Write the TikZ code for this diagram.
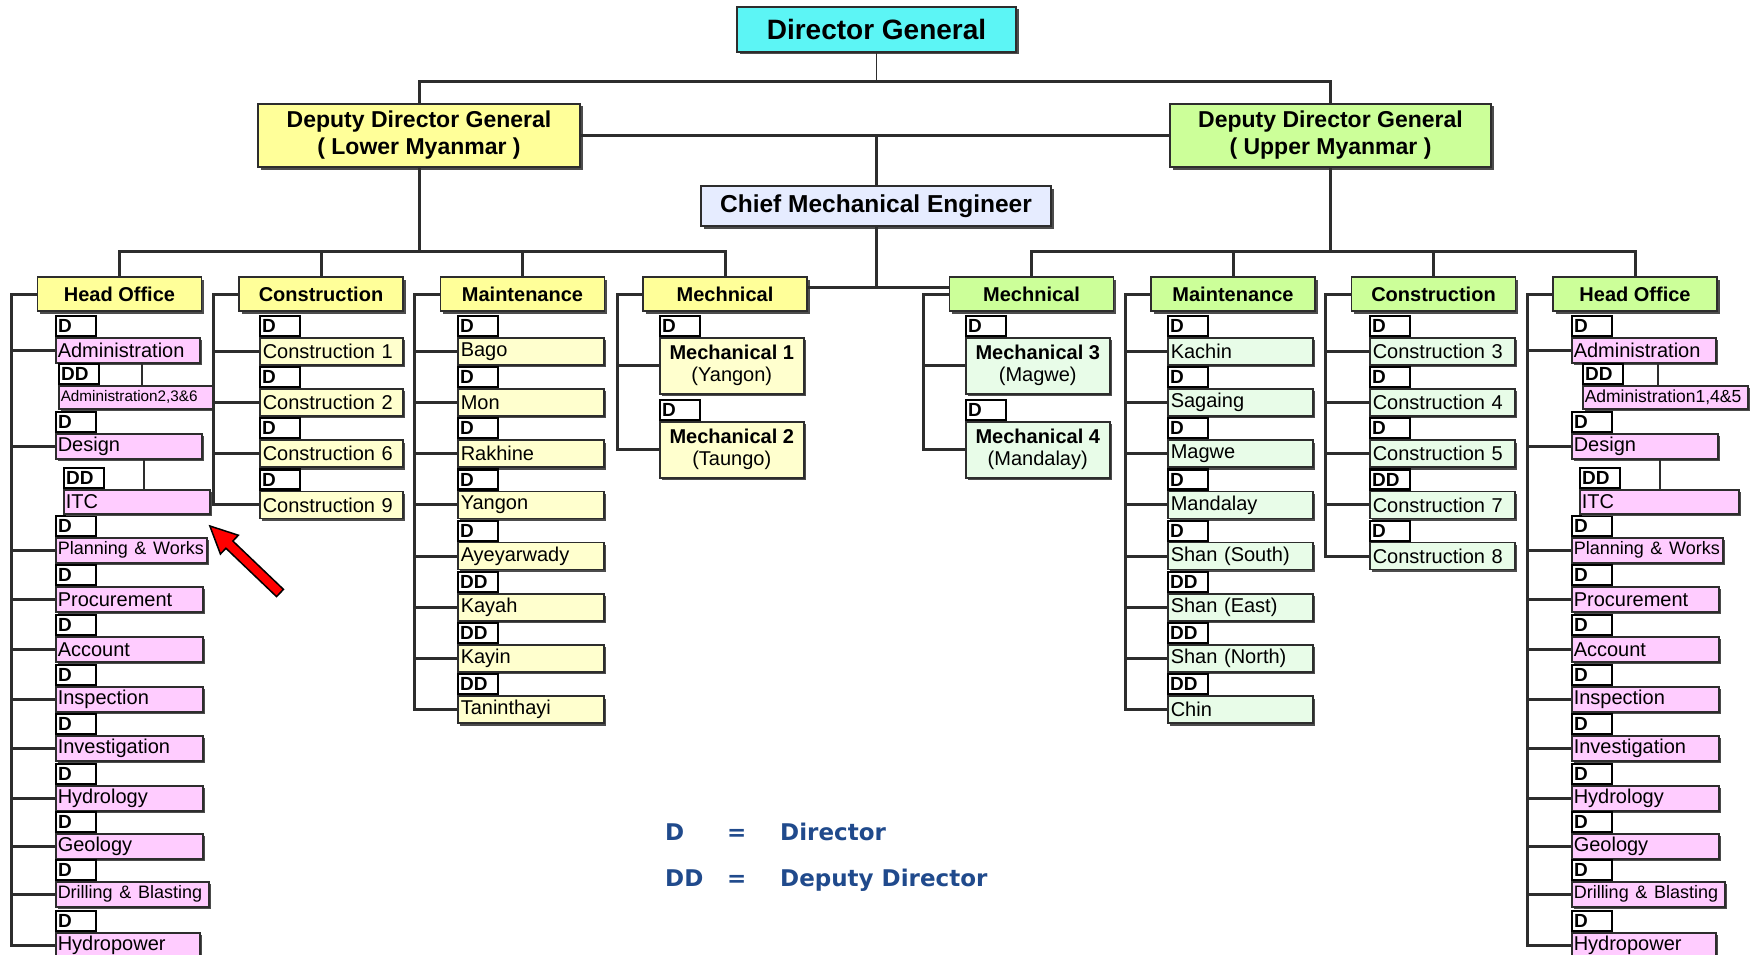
\documentclass[tikz,border=0pt]{standalone}
\usepackage{fontspec}
\setmainfont{Liberation Sans}
\newfontfamily\keyfont{DejaVu Sans}
\usepackage{tikz}
\usetikzlibrary{positioning,calc,shadows}
\usepackage{xcolor}

\definecolor{dgcyan}{RGB}{92,245,245}
\definecolor{lowyellow}{RGB}{255,255,153}
\definecolor{upgreen}{RGB}{204,255,153}
\definecolor{cmeblue}{RGB}{230,236,255}
\definecolor{itemyellow}{RGB}{255,255,206}
\definecolor{itemgreen}{RGB}{232,252,232}
\definecolor{itempink}{RGB}{255,204,255}
\definecolor{linegray}{RGB}{45,45,45}
\definecolor{legendblue}{RGB}{32,74,140}

\newcommand{\pxfont}[2]{\fontsize{#1}{#2}\selectfont}

\begin{document}
\begin{tikzpicture}[x=1pt,y=-1pt,line join=miter]
  \tikzstyle{box}=[draw=linegray,line width=1.5pt,inner sep=2pt,
                   drop shadow={shadow xshift=2.5pt,shadow yshift=-2.5pt,fill=black!70,opacity=1}]
  \tikzstyle{top box}=[box,align=center,font=\bfseries\pxfont{23}{27}]
  \tikzstyle{head}=[box,minimum width=164pt,minimum height=34pt,font=\bfseries\pxfont{20}{22}]
  \tikzstyle{unit}=[box,anchor=north west,minimum height=27pt,inner xsep=3pt,align=left,font=\pxfont{20}{22}]
  \tikzstyle{pink unit}=[unit,fill=itempink,minimum height=25pt,inner xsep=2pt]
  \tikzstyle{mech unit}=[box,anchor=north west,minimum width=144pt,minimum height=56pt,align=center,font=\pxfont{20}{22}]
  \tikzstyle{tag}=[draw=black,line width=2.2pt,fill=white,anchor=south west,minimum width=40pt,
                   minimum height=20pt,text width=36pt,inner xsep=2pt,inner ysep=0pt,align=left,
                   font=\bfseries\pxfont{19}{19}]
  \tikzstyle{link}=[draw=linegray,line width=3pt]
  \tikzstyle{key}=[inner sep=0pt,anchor=base west,text=legendblue,font=\keyfont\bfseries\pxfont{23}{23}]

  \useasboundingbox (0,0) rectangle (1751,955);

  % top of the chart
  \node[top box,fill=dgcyan,minimum width=279pt,minimum height=45pt,font=\bfseries\pxfont{28}{30}] (dg) at (876.5,29.5) {Director General};
  \node[top box,fill=lowyellow,minimum width=322pt,minimum height=63pt] (ddgL) at (419,135.5) {Deputy Director General\\( Lower Myanmar )};
  \node[top box,fill=upgreen,minimum width=321pt,minimum height=63pt] (ddgR) at (1330.5,135.5) {Deputy Director General\\( Upper Myanmar )};
  \node[top box,fill=cmeblue,minimum width=350pt,minimum height=40pt,font=\bfseries\pxfont{24.5}{26}] (cme) at (876,206) {Chief Mechanical Engineer};

  % department heads
  \node[head,fill=lowyellow] (hoL) at (119.5,294) {Head Office};
  \node[head,fill=lowyellow,right=36pt of hoL] (conL) {Construction};
  \node[head,fill=lowyellow,right=36pt of conL] (mntL) {Maintenance};
  \node[head,fill=lowyellow,right=37pt of mntL] (mecL) {Mechnical};
  \node[head,fill=upgreen] (mecR) at (1031.5,294) {Mechnical};
  \node[head,fill=upgreen,right=36pt of mecR] (mntR) {Maintenance};
  \node[head,fill=upgreen,right=35pt of mntR] (conR) {Construction};
  \node[head,fill=upgreen,right=36pt of conR] (hoR) {Head Office};

  \draw[draw=linegray,line width=1.5pt] (dg.south) -- ++(0,29) coordinate (dgBus);
  \draw[link] (ddgL.north) |- (dgBus) -| (ddgR.north);
  \draw[link] (ddgL.east) -- (ddgR.west);
  \draw[link] (cme.north) -- (cme.north |- ddgL.east);
  \draw[link] (cme.south) -- ++(0,61) coordinate (cmeBus);
  \draw[link] (mecL.east |- cmeBus) -- (mecR.west |- cmeBus);
  \draw[link] (ddgL.south) -- ++(0,84) coordinate (lowBus);
  \draw[link] (hoL.north) |- (lowBus) -| (mecL.north);
  \draw[link] (conL.north) -- (conL.north |- lowBus);
  \draw[link] (mntL.north) -- (mntL.north |- lowBus);
  \draw[link] (ddgR.south) -- ++(0,84) coordinate (upBus);
  \draw[link] (mecR.north) |- (upBus) -| (hoR.north);
  \draw[link] (mntR.north) -- (mntR.north |- upBus);
  \draw[link] (conR.north) -- (conR.north |- upBus);

  \foreach \hd in {hoL,conL,mntL,mecL,mecR,mntR,conR,hoR}
    \coordinate (\hd-spine) at ($(\hd.west)+(-25,0)$);

  % head offices
  \foreach \side/\x in {L/55,R/1571}{
    \foreach \lab/\tg/\top/\tw [count=\i] in {Administration/D/337/140,Design/D/433/142,
        {\pxfont{18}{20}Planning \& Works}/D/537/147,Procurement/D/586/143,Account/D/636/143,
        Inspection/D/686/143,Investigation/D/735/143,Hydrology/D/785/143,Geology/D/833/143,
        {\pxfont{18}{20}Drilling \& Blasting}/D/881/149,Hydropower/D/932/140}{
      \node[pink unit,text width=\tw pt] (ho\side-\i) at (\x,\top) {\lab};
      \node[tag] (ho\side-\i-tag) at (ho\side-\i.north west) {\tg};
      \draw[link] (ho\side-\i.west) -- (ho\side-\i.west -| ho\side-spine);
    }
    \draw[link] (ho\side.west) -| (ho\side-11.west -| ho\side-spine) -- (ho\side-11.west);
  }
  \node[pink unit,minimum height=23pt,text width=150pt,font=\pxfont{15.3}{16}] (hoL-adm) at (58,385) {Administration2,3\&6};
  \node[tag] (hoL-adm-tag) at (hoL-adm.north west) {DD};
  \node[pink unit,minimum height=24pt,text width=142pt] (hoL-itc) at (63,489) {ITC};
  \node[tag] (hoL-itc-tag) at (hoL-itc.north west) {DD};
  \node[pink unit,minimum height=23pt,text width=161pt,font=\pxfont{17.5}{18}] (hoR-adm) at (1582,385) {Administration1,4\&5};
  \node[tag] (hoR-adm-tag) at (hoR-adm.north west) {DD};
  \node[pink unit,minimum height=24pt,text width=155pt] (hoR-itc) at (1579,489) {ITC};
  \node[tag] (hoR-itc-tag) at (hoR-itc.north west) {DD};
  \foreach \side in {L,R}{
    \path ($(ho\side-1.south west)!0.6!(ho\side-1.south east)$) coordinate (ho\side-j1)
          ($(ho\side-2.south west)!0.6!(ho\side-2.south east)$) coordinate (ho\side-j2);
    \draw[draw=linegray,line width=2pt] (ho\side-j1) -- (ho\side-j1 |- ho\side-adm.north);
    \draw[draw=linegray,line width=2pt] (ho\side-j2) -- (ho\side-j2 |- ho\side-itc.north);
  }

  % construction
  \foreach \lab/\tg [count=\i] in {Construction 1/D,Construction 2/D,Construction 6/D,Construction 9/D}{
    \node[unit,fill=itemyellow,text width=137pt] (conL-\i) at (259,285.8+51.2*\i) {\lab};
    \node[tag] (conL-\i-tag) at (conL-\i.north west) {\tg};
    \draw[link] (conL-\i.west) -- (conL-\i.west -| conL-spine);
  }
  \draw[link] (conL.west) -| (conL-4.west -| conL-spine) -- (conL-4.west);
  \foreach \lab/\tg [count=\i] in {Construction 3/D,Construction 4/D,Construction 5/D,Construction 7/DD,Construction 8/D}{
    \node[unit,fill=itemgreen,text width=139pt] (conR-\i) at (1369,285.8+51.2*\i) {\lab};
    \node[tag] (conR-\i-tag) at (conR-\i.north west) {\tg};
    \draw[link] (conR-\i.west) -- (conR-\i.west -| conR-spine);
  }
  \draw[link] (conR.west) -| (conR-5.west -| conR-spine) -- (conR-5.west);

  % maintenance
  \foreach \lab/\tg [count=\i] in {Bago/D,Mon/D,Rakhine/D,Yangon/D,Ayeyarwady/D,Kayah/DD,Kayin/DD,Taninthayi/DD}{
    \node[unit,fill=itemyellow,text width=140pt] (mntL-\i) at (457,285.8+51.2*\i) {\lab};
    \node[tag] (mntL-\i-tag) at (mntL-\i.north west) {\tg};
    \draw[link] (mntL-\i.west) -- (mntL-\i.west -| mntL-spine);
  }
  \draw[link] (mntL.west) -| (mntL-8.west -| mntL-spine) -- (mntL-8.west);
  \foreach \lab/\tg [count=\i] in {Kachin/D,Sagaing/D,Magwe/D,Mandalay/D,Shan (South)/D,Shan (East)/DD,Shan (North)/DD,Chin/DD}{
    \node[unit,fill=itemgreen,text width=139pt] (mntR-\i) at (1167,285.8+51.2*\i) {\lab};
    \node[tag] (mntR-\i-tag) at (mntR-\i.north west) {\tg};
    \draw[link] (mntR-\i.west) -- (mntR-\i.west -| mntR-spine);
  }
  \draw[link] (mntR.west) -| (mntR-8.west -| mntR-spine) -- (mntR-8.west);

  % mechanical
  \node[mech unit,fill=itemyellow] (mecL-1) at (659,337) {\textbf{Mechanical 1}\\(Yangon)};
  \node[mech unit,fill=itemyellow] (mecL-2) at (659,421) {\textbf{Mechanical 2}\\(Taungo)};
  \node[mech unit,fill=itemgreen] (mecR-1) at (965,337) {\textbf{Mechanical 3}\\(Magwe)};
  \node[mech unit,fill=itemgreen] (mecR-2) at (965,421) {\textbf{Mechanical 4}\\(Mandalay)};
  \foreach \side in {L,R}{
    \node[tag] (mec\side-1-tag) at (mec\side-1.north west) {D};
    \node[tag] (mec\side-2-tag) at (mec\side-2.north west) {D};
    \draw[link] (mec\side-1.west) -- (mec\side-1.west -| mec\side-spine);
    \draw[link] (mec\side.west) -| (mec\side-2.west -| mec\side-spine) -- (mec\side-2.west);
  }

  % pointer
  \begin{scope}[shift={(280,593)},rotate=136.3]
    \filldraw[fill=red,draw=black,line width=1.5pt] (0,5) -- (70,5) -- (70,13) -- (97,0)
      -- (70,-13) -- (70,-5) -- (0,-5) -- cycle;
  \end{scope}

  % legend
  \node[key] (keyD) at (665,840) {D};
  \node[key] (keyDeq) at (727,840) {=};
  \node[key] (keyDtxt) at (780,840) {Director};
  \node[key] (keyDD) at (665,886) {DD};
  \node[key] (keyDDeq) at (727,886) {=};
  \node[key] (keyDDtxt) at (780,886) {Deputy Director};
\end{tikzpicture}
\end{document}
